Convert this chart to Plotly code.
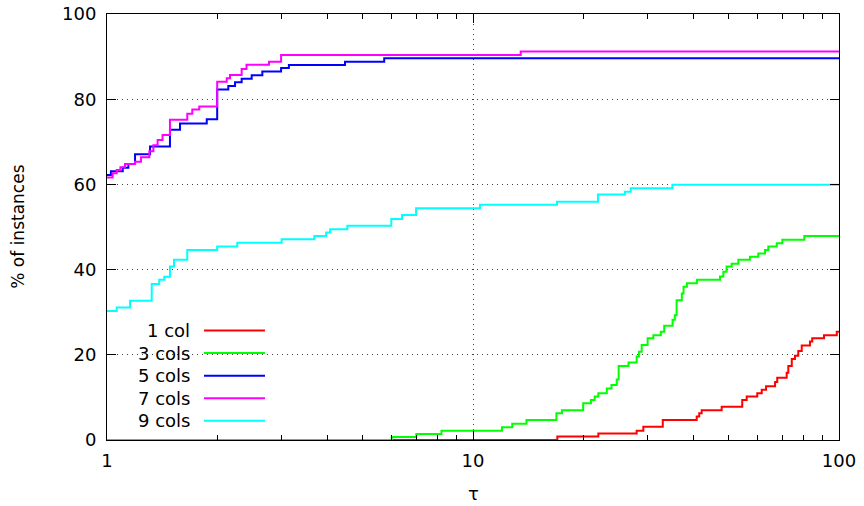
import plotly.graph_objects as go

# ---- data (tau breakpoints, % of instances) ----
series_names = ["1 col", "3 cols", "5 cols", "7 cols", "9 cols"]
series_colors = ["#ff0000", "#00ff00", "#0000ff", "#ff00ff", "#00ffff"]

tau_1col = [1, 17.0, 22.0, 28.0, 29.2, 33.0, 40.85, 41.5, 42.15, 47.8, 54.4, 55.95, 59.8, 61.5,
            63.2, 66.9, 67.8, 71.95, 72.7, 74.3, 75.8, 77.4, 79.1, 83.3, 84.5, 91.0, 98.6, 100]
pct_1col = [0, 0.8, 1.5, 2.2, 3.1, 4.7, 5.5, 6.3, 7.0, 7.8, 9.4, 10.2, 11.0, 11.8,
            12.6, 13.6, 14.6, 15.8, 17.4, 19.0, 19.8, 20.9, 22.2, 23.1, 23.9, 24.6, 25.4, 25.4]

tau_3cols = [1, 6.0, 7.0, 8.2, 12.0, 12.8, 14.0, 16.9, 17.5, 20.0, 21.0, 21.5, 22.0, 23.2, 23.9,
             24.7, 25.0, 26.6, 28.0, 28.4, 28.9, 30.0, 31.1, 32.6, 33.3, 35.1, 35.6, 36.0, 37.2,
             37.6, 38.4, 40.9, 47.3, 48.3, 49.3, 50.9, 53.1, 57.1, 60.2, 62.8, 64.1, 67.6, 70.0,
             80.4, 100]
pct_3cols = [0, 0.7, 1.4, 2.2, 3.0, 3.8, 4.7, 6.3, 7.0, 8.6, 9.4, 10.2, 11.0, 12.1, 12.9,
             14.2, 17.4, 18.2, 19.6, 20.7, 22.3, 23.9, 24.6, 25.4, 26.8, 28.2, 29.3, 32.8, 34.4,
             36.0, 36.8, 37.6, 38.4, 39.5, 40.7, 41.4, 42.3, 43.0, 43.8, 44.6, 45.4, 46.2, 47.0,
             47.9, 47.9]

tau_5cols = [1, 1.025, 1.104, 1.144, 1.193, 1.311, 1.486, 1.583, 1.873, 2.0, 2.145, 2.238, 2.333,
             2.485, 2.657, 2.99, 3.14, 4.47, 5.72, 100]
pct_5cols = [62.2, 63.1, 63.9, 64.8, 67.1, 68.9, 72.8, 74.3, 75.3, 82.3, 83.1, 84.0, 84.8,
             85.6, 86.5, 87.3, 88.0, 88.8, 89.6, 89.6]

tau_7cols = [1, 1.036, 1.063, 1.088, 1.120, 1.193, 1.238, 1.305, 1.339, 1.375, 1.418, 1.486,
             1.657, 1.710, 1.787, 2.0, 2.124, 2.168, 2.333, 2.405, 2.771, 2.99, 13.5, 100]
pct_7cols = [61.6, 62.6, 63.4, 64.0, 64.8, 65.3, 66.4, 67.8, 69.2, 70.4, 71.6, 75.2,
             76.6, 77.6, 78.3, 84.1, 84.9, 85.7, 87.1, 88.1, 88.8, 90.4, 91.2, 91.2]

tau_9cols = [1, 1.063, 1.156, 1.325, 1.389, 1.434, 1.486, 1.524, 1.657, 2.0, 2.27, 3.0, 3.685,
             3.97, 4.07, 4.535, 5.98, 6.40, 6.99, 10.45, 16.96, 21.95, 26.0, 26.97, 35.05, 100]
pct_9cols = [30.3, 31.1, 32.7, 36.6, 37.6, 38.3, 40.7, 42.3, 44.6, 45.4, 46.3, 47.1, 47.9,
             48.7, 49.5, 50.3, 51.9, 52.8, 54.4, 55.2, 55.9, 57.6, 58.3, 59.1, 59.9, 59.9]

x_major_ticks = [1, 10, 100]
x_major_labels = ["1", "10", "100"]
x_minor_ticks = [2, 3, 4, 5, 6, 7, 8, 9, 20, 30, 40, 50, 60, 70, 80, 90]
y_ticks = [0, 20, 40, 60, 80, 100]

all_tau = [tau_1col, tau_3cols, tau_5cols, tau_7cols, tau_9cols]
all_pct = [pct_1col, pct_3cols, pct_5cols, pct_7cols, pct_9cols]

FONT = "DejaVu Sans"

fig = go.Figure()
for name, color, xs, ys in zip(series_names, series_colors, all_tau, all_pct):
    fig.add_trace(go.Scatter(x=xs, y=ys, mode="lines", name=name,
                             line=dict(color=color, width=2, shape="hv"),
                             showlegend=False))

# gnuplot-style legend: text right-aligned, line sample to the right
leg_y = [0.257, 0.204, 0.151, 0.098, 0.045]
for name, color, yy in zip(series_names, series_colors, leg_y):
    fig.add_annotation(x=0.116, y=yy, xref="paper", yref="paper", text=name,
                       showarrow=False, xanchor="right", yanchor="middle",
                       font=dict(family=FONT, size=18, color="black"))
    fig.add_shape(type="line", xref="paper", yref="paper", x0=0.1325, x1=0.2158,
                  y0=yy, y1=yy, line=dict(color=color, width=2))

# axis titles
fig.add_annotation(x=0.5, y=-0.125, xref="paper", yref="paper", text="τ", showarrow=False,
                   xanchor="center", yanchor="middle", font=dict(family=FONT, size=18))
fig.add_annotation(x=-0.122, y=0.5, xref="paper", yref="paper", text="% of instances",
                   showarrow=False, textangle=-90, xanchor="center", yanchor="middle",
                   font=dict(family=FONT, size=17))

fig.update_layout(
    width=864, height=506,
    margin=dict(l=107, r=25, t=14, b=66, autoexpand=False),
    paper_bgcolor="white", plot_bgcolor="white",
    font=dict(family=FONT, size=18, color="black"),
    xaxis=dict(type="log", range=[0, 2], tickmode="array", tickvals=x_major_ticks,
               ticktext=x_major_labels, ticks="inside", ticklen=9, tickwidth=1,
               tickcolor="black", showline=True, linecolor="black", linewidth=1,
               mirror="ticks", showgrid=True, gridcolor="#444", gridwidth=1,
               griddash="1px,4px", zeroline=False, automargin=False,
               ticklabelstandoff=4,
               minor=dict(tickmode="array", tickvals=x_minor_ticks, ticks="inside",
                          ticklen=5, tickwidth=1, tickcolor="black", showgrid=False),
               tickfont=dict(family=FONT, size=18)),
    yaxis=dict(range=[0, 100], tickmode="array", tickvals=y_ticks, ticks="inside",
               ticklen=9, tickwidth=1, tickcolor="black", showline=True,
               linecolor="black", linewidth=1, mirror="ticks", showgrid=True,
               gridcolor="#444", gridwidth=1, griddash="1px,4px", zeroline=False,
               automargin=False, ticklabelstandoff=6,
               tickfont=dict(family=FONT, size=18)),
)

# remove the default 8px page margin so the 864x506 figure fills the window exactly
fig.write_html("out.html", config={"displayModeBar": False},
               post_script="document.body.style.margin='0';")
